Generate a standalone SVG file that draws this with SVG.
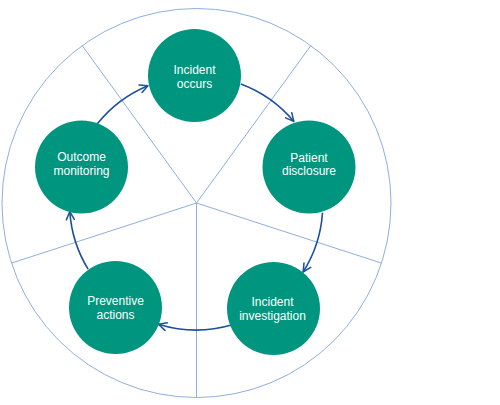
<svg xmlns="http://www.w3.org/2000/svg" width="500" height="405" viewBox="0 0 500 405">
<defs>
<style>
.ring{fill:none;stroke:#8fafdc;stroke-width:1}
.spoke{stroke:#8fafdc;stroke-width:1}
.node{fill:#00957e}
.lbl{fill:#ffffff;font-family:"Liberation Sans",Arial,sans-serif;font-size:12px;text-anchor:middle}
.arr{fill:none;stroke:#1d4f9c;stroke-width:1.6;marker-end:url(#ah)}
</style>
<marker id="ah" viewBox="0 0 10 10" refX="9" refY="5" markerWidth="10" markerHeight="10" markerUnits="userSpaceOnUse" orient="auto">
<path d="M1,1 L9,5 L1,9" fill="none" stroke="#1d4f9c" stroke-width="1.5" stroke-linecap="round" stroke-linejoin="round"/>
</marker>
</defs>
<rect width="500" height="405" fill="#ffffff"/>
<g id="background">
<circle class="ring" cx="196.5" cy="203" r="194.5"/>
<line class="spoke" x1="196.5" y1="203" x2="196.5" y2="397.5"/>
<line class="spoke" x1="196.5" y1="203" x2="381.5" y2="263.1"/>
<line class="spoke" x1="196.5" y1="203" x2="310.8" y2="45.6"/>
<line class="spoke" x1="196.5" y1="203" x2="82.2" y2="45.6"/>
<line class="spoke" x1="196.5" y1="203" x2="11.5" y2="263.1"/>
</g>
<g id="connectors">
<path class="arr" d="M240.8,84 A127,127 0 0 1 293.8,121.4"/>
<path class="arr" d="M322.5,212.7 A127,127 0 0 1 303.1,272"/>
<path class="arr" d="M231.5,325.1 A127,127 0 0 1 158.5,324.2"/>
<path class="arr" d="M88.1,269.2 A127,127 0 0 1 69.8,211.6"/>
<path class="arr" d="M97.3,123.8 A127,127 0 0 1 147.9,85.7"/>
</g>
<g id="incident-occurs">
<circle class="node" cx="194.5" cy="75.5" r="46.5"/>
<text class="lbl"><tspan x="194.5" y="73.8">Incident</tspan><tspan x="194.5" y="87.6">occurs</tspan></text>
</g>
<g id="patient-disclosure">
<circle class="node" cx="309" cy="167" r="46.5"/>
<text class="lbl"><tspan x="309" y="161.6">Patient</tspan><tspan x="309" y="175.4">disclosure</tspan></text>
</g>
<g id="incident-investigation">
<circle class="node" cx="273.5" cy="308.5" r="46.5"/>
<text class="lbl"><tspan x="272.5" y="305.8">Incident</tspan><tspan x="272.5" y="319.6">investigation</tspan></text>
</g>
<g id="preventive-actions">
<circle class="node" cx="115.5" cy="307.5" r="46.5"/>
<text class="lbl"><tspan x="115.5" y="304.8">Preventive</tspan><tspan x="115.5" y="318.6">actions</tspan></text>
</g>
<g id="outcome-monitoring">
<circle class="node" cx="81.5" cy="167" r="46.5"/>
<text class="lbl"><tspan x="81.5" y="161.2">Outcome</tspan><tspan x="81.5" y="175">monitoring</tspan></text>
</g>
</svg>
